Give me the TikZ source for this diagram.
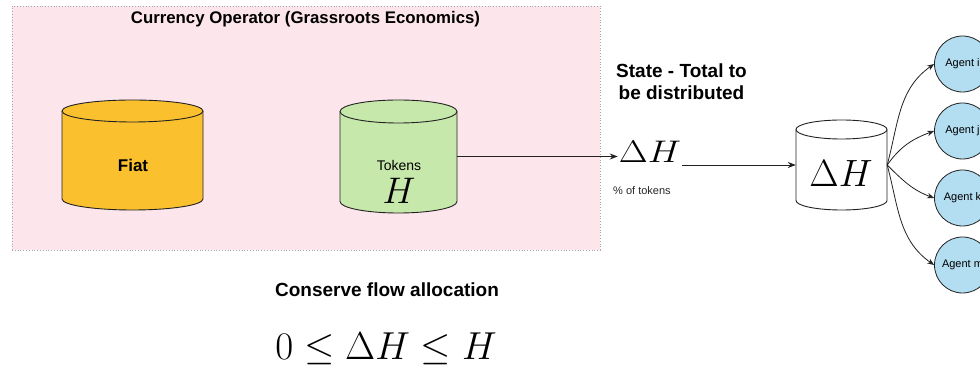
\RequirePackage{fix-cm}
\documentclass[tikz,border=0pt]{standalone}
\usepackage{fontspec}
\setmainfont{Liberation Sans}
\usetikzlibrary{arrows.meta}
\definecolor{pinkbg}{HTML}{FDE5EC}
\definecolor{fiatfill}{HTML}{FBC02D}
\definecolor{tokfill}{HTML}{C6E8AB}
\definecolor{agentfill}{HTML}{B3DDF1}
\definecolor{linec}{HTML}{222222}
\newcommand{\cylshape}[6]{%
  \filldraw[cylline, fill=#6] (#1-#4, #2-#5) -- (#1-#4, #3+#5)
    arc[start angle=180, end angle=360, x radius=#4, y radius=#5]
    -- (#1+#4, #2-#5)
    arc[start angle=0, end angle=180, x radius=#4, y radius=#5] -- cycle;
  \draw[cylline] (#1-#4, #2-#5) arc[start angle=180, end angle=360, x radius=#4, y radius=#5];
}
\tikzset{
  cylline/.style={draw=linec, line width=0.9pt},
  cylbox/.style={draw=none, inner sep=0pt, rectangle},
  arr/.style={draw=linec, line width=0.9pt, -{Stealth[length=8pt,width=6pt]}},
  fanarr/.style={draw=linec, line width=0.8pt, -{Stealth[length=7pt,width=5.5pt]}},
  agent/.style={circle, draw=linec, line width=0.8pt, fill=agentfill, minimum size=56pt, inner sep=0pt,
    font=\fontsize{11}{13}\selectfont},
  boldtxt/.style={font=\bfseries\fontsize{19}{22}\selectfont, text=black, align=center, inner sep=0pt},
}
\begin{document}
\begin{tikzpicture}[x=1pt, y=1pt]
\useasboundingbox[fill=white] (0,0) rectangle (980,369);
% container
\node[draw=gray!70, dotted, line width=0.8pt, fill=pinkbg, minimum width=588pt, minimum height=244pt, inner sep=0pt]
  (op) at (306,241) {};
\node[font=\bfseries\fontsize{16.8}{19}\selectfont, anchor=base, inner sep=0pt] (optitle) at (305.5,345) {Currency Operator (Grassroots Economics)};
% Fiat cylinder
\cylshape{132.5}{269}{159}{70.5}{11}{fiatfill}
\node[cylbox, minimum width=141pt, minimum height=110pt] (fiat) at (132.5,214) {};
\node[font=\bfseries\fontsize{17}{19}\selectfont, inner sep=0pt] (fiatlbl) at (133,204) {Fiat};
% Tokens cylinder
\cylshape{398.5}{269}{156}{58.5}{11.5}{tokfill}
\node[cylbox, minimum width=117pt, minimum height=113pt] (tok) at (398.5,212.5) {};
\node[font=\fontsize{14}{16}\selectfont, inner sep=0pt] (toklbl) at (399,203) {Tokens};
\node[inner sep=0pt, font=\fontsize{37}{39}\selectfont] (tokH) at (399,178) {$H$};
% state delta H
\node[inner sep=1pt, font=\fontsize{34}{36}\selectfont] (dh) at (650,217) {\scalebox{1.1}[0.92]{$\Delta H$}};
\node[font=\fontsize{11}{13}\selectfont, anchor=west, inner sep=0pt, text=black!85] (pct) at (613,178) {\% of tokens};
\node[boldtxt] (state) at (681.5,287) {State - Total to\\be distributed};
% delta H cylinder
\cylshape{841.5}{249}{159}{45.5}{9.5}{white}
\node[cylbox, minimum width=91pt, minimum height=90pt] (dhc) at (841.5,204) {};
\node[inner sep=0pt, font=\fontsize{38}{40}\selectfont] (dhclbl) at (841,195) {$\Delta H$};
% agents
\node[agent] (ai) at (962.5,305) {Agent i};
\node[agent] (aj) at (962.5,238) {Agent j};
\node[agent] (ak) at (962.5,171) {Agent k};
\node[agent] (am) at (962.5,104) {Agent m};
% connectors
\draw[arr] (tok.east) -- (dh.west |- tok.east);
\draw[arr] (dh.east |- dhc.west) -- (dhc.west);
\draw[fanarr] (dhc.east) to[out=75, in=215] (ai.west);
\draw[fanarr] (dhc.east) to[out=55, in=200] (aj.west);
\draw[fanarr] (dhc.east) to[out=-45, in=160] (ak.west);
\draw[fanarr] (dhc.east) to[out=-75, in=145] (am.west);
% bottom
\node[boldtxt, anchor=base] (cons) at (387,72) {Conserve flow allocation};
\node[inner sep=0pt, anchor=base, font=\fontsize{39}{41}\selectfont] (ineq) at (386,9) {$0 \le \Delta H \le H$};
\end{tikzpicture}
\end{document}
